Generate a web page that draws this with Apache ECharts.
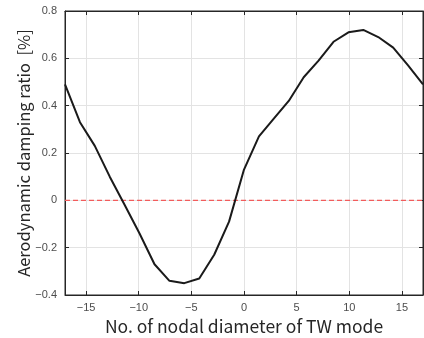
<!DOCTYPE html>
<html>
<head>
<meta charset="utf-8">
<script src="https://cdn.jsdelivr.net/npm/echarts@6/dist/echarts.min.js"></script>
<style>html,body{margin:0;padding:0;background:#fff}#c{width:424px;height:338px}</style>
</head>
<body>
<div id="c"></div>
<script>
// Nodal diameter positions
var nodalDiameter = [-17, -15.58, -14.17, -12.75, -11.33, -9.92, -8.5, -7.08, -5.67, -4.25, -2.83, -1.42, 0,
  1.42, 2.83, 4.25, 5.67, 7.08, 8.5, 9.92, 11.33, 12.75, 14.17, 15.58, 17];
// Aerodynamic damping ratio [%]
var dampingRatio = [0.49, 0.33, 0.23, 0.10, -0.02, -0.14, -0.27, -0.34, -0.35, -0.33, -0.23, -0.09, 0.13,
  0.27, 0.345, 0.42, 0.52, 0.59, 0.67, 0.71, 0.72, 0.69, 0.645, 0.57, 0.49];
// Zero reference line
var zeroLineX = [-17, 17];
var zeroLineY = [0, 0];
// Tick labels
var xTicks = [-15, -10, -5, 0, 5, 10, 15];
var yTicks = [-0.4, -0.2, 0, 0.2, 0.4, 0.6, 0.8];

var axisCol = '#262626';
var gridCol = '#e3e3e3';
var labelCol = '#4d4d4d';
function fmt(v){ return String(+v.toFixed(1)).replace('-', '\u2212'); }

var chart = echarts.init(document.getElementById('c'), null, {renderer: 'canvas'});
chart.setOption({
  animation: false,
  backgroundColor: '#fff',
  grid: {left: 65, right: 1, top: 11, bottom: 43, containLabel: false, outerBoundsMode: 'none',
         show: true, borderColor: axisCol, borderWidth: 1, backgroundColor: 'transparent'},
  xAxis: [{
    type: 'value', min: -17, max: 17, position: 'bottom',
    name: 'No. of nodal diameter of TW mode', nameLocation: 'middle', nameGap: 21,
    nameTextStyle: {fontFamily: 'Noto Sans CJK JP', fontSize: 17.5, color: axisCol},
    axisLine: {show: true, onZero: false, lineStyle: {color: axisCol, width: 1}},
    axisTick: {show: true, inside: true, length: 4, customValues: xTicks, lineStyle: {color: axisCol}},
    axisLabel: {show: true, customValues: xTicks, margin: 7, fontFamily: 'Liberation Sans', fontSize: 11, color: labelCol, formatter: fmt},
    splitLine: {show: true, lineStyle: {color: gridCol, width: 1}}
  }, {
    type: 'value', min: -17, max: 17, position: 'top',
    axisLine: {show: true, onZero: false, lineStyle: {color: axisCol, width: 1}},
    axisTick: {show: true, inside: true, length: 4, customValues: xTicks, lineStyle: {color: axisCol}},
    axisLabel: {show: false},
    splitLine: {show: false}
  }],
  yAxis: [{
    type: 'value', min: -0.4, max: 0.8, interval: 0.2, position: 'left',
    name: 'Aerodynamic damping ratio  [%]', nameLocation: 'middle', nameGap: 33, nameMoveOverlap: false,
    nameTextStyle: {fontFamily: 'Noto Sans CJK JP', fontSize: 16.5, color: axisCol},
    axisLine: {show: true, onZero: false, lineStyle: {color: axisCol, width: 1}},
    axisTick: {show: true, inside: true, length: 4, lineStyle: {color: axisCol}},
    axisLabel: {show: true, margin: 8, fontFamily: 'Liberation Sans', fontSize: 11, color: labelCol, formatter: fmt},
    splitLine: {show: true, lineStyle: {color: gridCol, width: 1}}
  }, {
    type: 'value', min: -0.4, max: 0.8, interval: 0.2, position: 'right',
    axisLine: {show: true, onZero: false, lineStyle: {color: axisCol, width: 1}},
    axisTick: {show: true, inside: true, length: 4, lineStyle: {color: axisCol}},
    axisLabel: {show: false},
    splitLine: {show: false}
  }],
  series: [{
    type: 'line', xAxisIndex: 0, yAxisIndex: 0,
    data: zeroLineX.map(function(x, i){ return [x, zeroLineY[i]]; }),
    showSymbol: false, symbol: 'none',
    lineStyle: {color: '#f25c5c', width: 1.3, type: [5, 3]},
    z: 3
  }, {
    type: 'line', xAxisIndex: 1, yAxisIndex: 1,
    data: nodalDiameter.map(function(x, i){ return [x, dampingRatio[i]]; }),
    showSymbol: false, symbol: 'none',
    lineStyle: {color: '#1a1a1a', width: 2},
    z: 4
  }]
});
</script>
</body>
</html>
